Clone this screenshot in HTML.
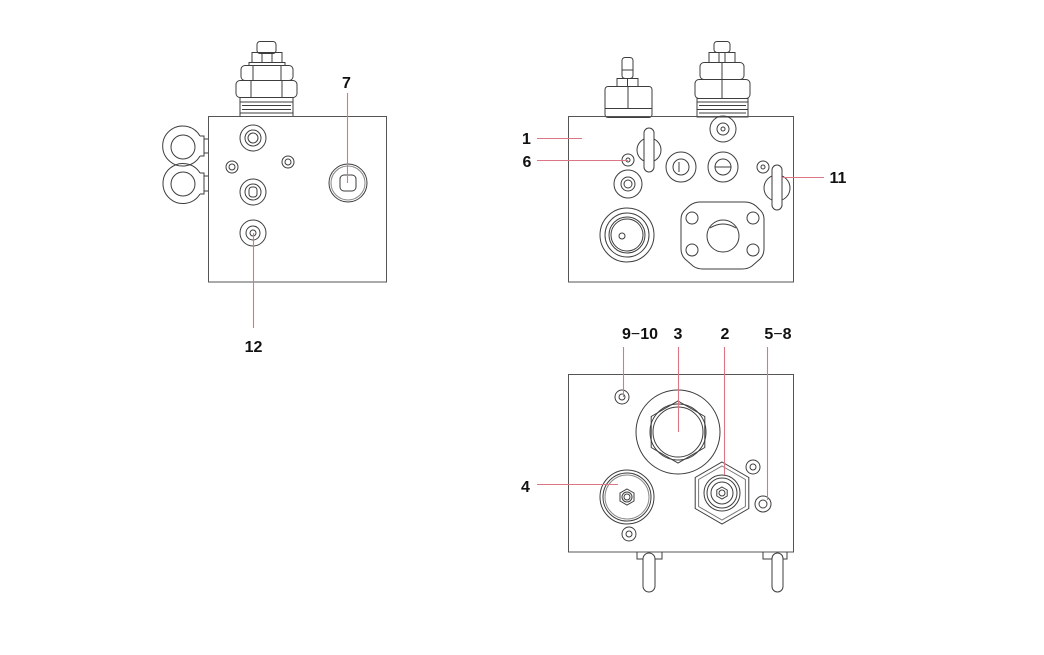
<!DOCTYPE html>
<html><head><meta charset="utf-8"><style>
html,body{margin:0;padding:0;background:#fff;}
svg{display:block;}
text{font-family:"Liberation Sans",Arial,sans-serif;font-weight:bold;font-size:16px;fill:#111;}
</style></head><body>
<svg width="1044" height="655" viewBox="0 0 1044 655" xmlns="http://www.w3.org/2000/svg">
<rect width="1044" height="655" fill="#fff"/>
<g fill="none" stroke="#3d3d3d" stroke-width="1">
<!-- ============ LEFT BLOCK ============ -->
<rect x="257" y="41.5" width="19" height="12" rx="3"/>
<rect x="252" y="52.5" width="30" height="10"/>
<line x1="262" y1="52.5" x2="262" y2="62.5"/><line x1="272" y1="52.5" x2="272" y2="62.5"/>
<rect x="249" y="62.5" width="36" height="3"/>
<rect x="241" y="65.5" width="52" height="15" rx="4"/>
<line x1="253" y1="65.5" x2="253" y2="80.5"/><line x1="281" y1="65.5" x2="281" y2="80.5"/>
<rect x="236" y="80.5" width="61" height="17" rx="4"/>
<line x1="251" y1="80.5" x2="251" y2="97.5"/><line x1="282" y1="80.5" x2="282" y2="97.5"/>
<rect x="240" y="97.5" width="53" height="19"/>
<line x1="240" y1="102" x2="293" y2="102"/><line x1="242" y1="105.5" x2="291" y2="105.5"/>
<line x1="242" y1="109.5" x2="291" y2="109.5"/><line x1="240" y1="113" x2="293" y2="113"/>
<path d="M200 136 A20 20 0 1 0 200 156"/>
<circle cx="183" cy="147" r="12"/>
<path d="M200 173 A20 20 0 1 0 200 194"/>
<circle cx="183" cy="184" r="12"/>
<path d="M200 136 L204 136 L204 156 L200 156 M204 139 L208 139 M204 153 L208 153"/>
<path d="M200 173 L204 173 L204 194 L200 194 M204 176 L208 176 M204 191 L208 191"/>
<rect x="208.5" y="116.5" width="178" height="165.5" stroke="#555"/>
<circle cx="253" cy="138" r="13"/><circle cx="253" cy="138" r="8"/><circle cx="253" cy="138" r="5"/>
<circle cx="232" cy="167" r="6"/><circle cx="232" cy="167" r="3"/>
<circle cx="288" cy="162" r="6"/><circle cx="288" cy="162" r="3"/>
<circle cx="253" cy="192" r="13"/><circle cx="253" cy="192" r="8"/><rect x="249" y="187" width="8" height="10" rx="3"/>
<circle cx="253" cy="233" r="13"/><circle cx="253" cy="233" r="7"/><circle cx="253" cy="233" r="3"/>
<circle cx="348" cy="183" r="19"/><circle cx="348" cy="183" r="17" stroke="#888"/>
<rect x="340" y="175" width="16" height="16" rx="4"/>

<!-- ============ TOP RIGHT BLOCK ============ -->
<rect x="622" y="57.5" width="11" height="21" rx="3"/>
<line x1="622" y1="70" x2="633" y2="70"/>
<rect x="617" y="78.5" width="21" height="8"/>
<line x1="627.5" y1="78.5" x2="627.5" y2="86.5"/>
<rect x="605" y="86.5" width="47" height="31" rx="3"/>
<line x1="628" y1="86.5" x2="628" y2="108"/>
<line x1="605" y1="108.5" x2="652" y2="108.5"/>
<rect x="714" y="41.5" width="16" height="11" rx="3"/>
<rect x="709" y="52.5" width="26" height="10"/>
<line x1="719" y1="52.5" x2="719" y2="62.5"/><line x1="725" y1="52.5" x2="725" y2="62.5"/>
<rect x="700" y="62.5" width="44" height="17" rx="4"/>
<line x1="722" y1="62.5" x2="722" y2="79.5"/>
<rect x="695" y="79.5" width="55" height="19" rx="4"/>
<line x1="722" y1="79.5" x2="722" y2="98.5"/>
<rect x="697" y="98.5" width="51" height="18.5"/>
<line x1="697" y1="102" x2="748" y2="102"/><line x1="699" y1="105.5" x2="746" y2="105.5"/>
<line x1="697" y1="109.5" x2="748" y2="109.5"/><line x1="699" y1="113" x2="746" y2="113"/>

<rect x="568.5" y="116.5" width="225" height="165.5" stroke="#555"/>
<circle cx="723" cy="129" r="13"/><circle cx="723" cy="129" r="6"/><circle cx="723" cy="129" r="2"/>
<circle cx="649" cy="150" r="12"/>
<rect x="644" y="128" width="10" height="44" rx="5" fill="#fff"/>
<circle cx="628" cy="160" r="6"/><circle cx="628" cy="160" r="2"/>
<circle cx="628" cy="184" r="14"/><circle cx="628" cy="184" r="7"/><circle cx="628" cy="184" r="4"/>
<circle cx="681" cy="167" r="15"/><circle cx="681" cy="167" r="8"/><line x1="679" y1="162" x2="679" y2="172"/>
<circle cx="723" cy="167" r="15"/><circle cx="723" cy="167" r="8"/><line x1="715" y1="167" x2="731" y2="167"/>
<circle cx="763" cy="167" r="6"/><circle cx="763" cy="167" r="2"/>
<circle cx="777" cy="188" r="13"/>
<rect x="772" y="165" width="10" height="45" rx="5" fill="#fff"/>
<circle cx="627" cy="235" r="27"/><circle cx="627" cy="235" r="22"/><circle cx="627" cy="235" r="18"/><circle cx="627" cy="235" r="16"/>
<circle cx="622" cy="236" r="3"/>
<path d="M700 202 L745 202 Q751 202 756 206 L759 209 Q764 213 764 219 L764 249 Q764 255 760 259 L752 266 Q748 269 742 269 L703 269 Q697 269 693 266 L685 259 Q681 255 681 249 L681 219 Q681 213 686 209 L689 206 Q694 202 700 202 Z"/>
<circle cx="692" cy="218" r="6"/><circle cx="753" cy="218" r="6"/>
<circle cx="692" cy="250" r="6"/><circle cx="753" cy="250" r="6"/>
<circle cx="723" cy="236" r="16"/><path d="M710 228 Q723 220 736 228"/>

<!-- ============ BOTTOM BLOCK ============ -->
<rect x="568.5" y="374.5" width="225" height="177.5" stroke="#555"/>
<circle cx="622" cy="397" r="7"/><circle cx="622" cy="397" r="3"/>
<circle cx="678" cy="432" r="42"/>
<polygon points="678,401 704.8,416.5 704.8,447.5 678,463 651.2,447.5 651.2,416.5"/>
<circle cx="678" cy="432" r="28"/><circle cx="678" cy="432" r="25"/>
<polygon points="722,462 748.8,477.5 748.8,508.5 722,524 695.2,508.5 695.2,477.5"/>
<polygon points="722,466 745.4,479.5 745.4,506.5 722,520 698.6,506.5 698.6,479.5" stroke="#777"/>
<circle cx="722" cy="493" r="18"/><circle cx="722" cy="493" r="15"/><circle cx="722" cy="493" r="11"/>
<polygon points="722,487 727.2,490 727.2,496 722,499 716.8,496 716.8,490"/>
<circle cx="722" cy="493" r="3"/>
<circle cx="753" cy="467" r="7"/><circle cx="753" cy="467" r="3"/>
<circle cx="763" cy="504" r="8"/><circle cx="763" cy="504" r="4"/>
<circle cx="627" cy="497" r="27"/><circle cx="627" cy="497" r="24"/><circle cx="627" cy="497" r="22" stroke="#888"/>
<polygon points="627,489 634,493 634,501 627,505 620,501 620,493"/>
<circle cx="627" cy="497" r="5"/><circle cx="627" cy="497" r="3"/>
<circle cx="629" cy="534" r="7"/><circle cx="629" cy="534" r="3"/>
<path d="M637 552 L637 559 L643 559 M655 559 L662 559 L662 552"/>
<rect x="643" y="553" width="12" height="39" rx="6" fill="#fff"/>
<path d="M763 552 L763 559 L772 559 M783 559 L787 559 L787 552"/>
<rect x="772" y="553" width="11" height="39" rx="5.5" fill="#fff"/>
</g>

<g stroke="#dc7584" stroke-width="1.1" fill="none">
<line x1="347.5" y1="93" x2="347.5" y2="183"/>
<line x1="253.5" y1="233" x2="253.5" y2="328"/>
<line x1="537" y1="138.5" x2="582" y2="138.5"/>
<line x1="537" y1="160.5" x2="628" y2="160.5"/>
<line x1="782" y1="177.5" x2="824" y2="177.5"/>
<line x1="537" y1="484.5" x2="618" y2="484.5"/>
<line x1="623.5" y1="347" x2="623.5" y2="397"/>
<line x1="678.5" y1="347" x2="678.5" y2="432"/>
<line x1="724.5" y1="347" x2="724.5" y2="475"/>
<line x1="767.5" y1="347" x2="767.5" y2="500"/>
</g>

<text x="346.5" y="88" text-anchor="middle">7</text>
<text x="253.5" y="352" text-anchor="middle">12</text>
<text x="526.5" y="144" text-anchor="middle">1</text>
<text x="527" y="167" text-anchor="middle">6</text>
<text x="838" y="183" text-anchor="middle">11</text>
<text x="525.5" y="492" text-anchor="middle">4</text>
<text x="640" y="339" text-anchor="middle">9<tspan font-weight="normal">−</tspan>10</text>
<text x="678" y="339" text-anchor="middle">3</text>
<text x="725" y="339" text-anchor="middle">2</text>
<text x="778" y="339" text-anchor="middle">5<tspan font-weight="normal">−</tspan>8</text>
</svg>
</body></html>
